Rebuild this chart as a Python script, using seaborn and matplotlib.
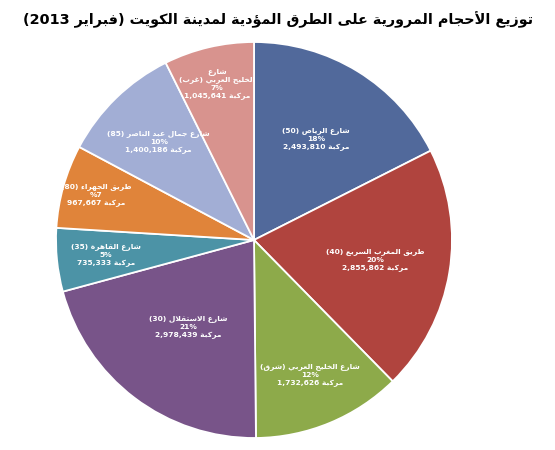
import re
import matplotlib
matplotlib.use("Agg")
import matplotlib.pyplot as plt
import seaborn as sns
import numpy as np

# ---------------------------------------------------------------
# data
roads = ["شارع الرياض (50)",
         "طريق المغرب السريع (40)",
         "شارع الخليج العربي (شرق)",
         "شارع الاستقلال (30)",
         "شارع القاهرة (35)",
         "طريق الجهراء (80)",
         "شارع جمال عبد الناصر (85)",
         "شارع\nالخليج العربي (غرب)"]
vehicles = [2493810, 2855862, 1732626, 2978439, 735333, 967667, 1400186, 1045641]
pct_labels = ["18%", "20%", "12%", "21%", "5%", "%7", "10%", "7%"]
unit = "مركبة"
title = "توزيع الأحجام المرورية على الطرق المؤدية لمدينة الكويت (فبراير 2013)"

colors = sns.color_palette(["#51699B", "#B0443E", "#8DAA4A", "#785489",
                            "#4C93A6", "#E0843A", "#A2AED5", "#D8938E"])
# distance of each label from the centre (fraction of radius)
label_r = [0.60, 0.62, 0.74, 0.55, 0.75, 0.83, 0.69, 0.81]

# ---------------------------------------------------------------
# small arabic shaper (presentation forms + visual reordering)
_letters = "ءآأؤإئابةتثجحخدذرزسشصضطظعغفقكلمنهوىي"
_nforms = [1, 2, 2, 2, 2, 4, 2, 4, 2, 4, 4, 4, 4, 4, 2, 2, 2, 2, 4, 4, 4, 4,
           4, 4, 4, 4, 4, 4, 4, 4, 4, 4, 4, 2, 2, 4]
FORMS = {}
code = 0xFE80
for ch, n in zip(_letters, _nforms):
    FORMS[ch] = [code + k for k in range(n)]
    code += n
LAM_ALEF = {"آ": 0xFEF5, "أ": 0xFEF7, "إ": 0xFEF9, "ا": 0xFEFB}


def shape(s):
    out = []
    i = 0
    while i < len(s):
        c = s[i]
        if c not in FORMS:
            out.append(c)
            i += 1
            continue
        prev = s[i - 1] if i > 0 else ""
        pj = prev in FORMS and len(FORMS[prev]) == 4
        if c == "ل" and i + 1 < len(s) and s[i + 1] in LAM_ALEF:
            out.append(chr(LAM_ALEF[s[i + 1]] + (1 if pj else 0)))
            i += 2
            continue
        nxt = s[i + 1] if i + 1 < len(s) else ""
        f = FORMS[c]
        nj = len(f) == 4 and nxt in FORMS
        if len(f) == 1:
            idx = 0
        elif len(f) == 2:
            idx = 1 if pj else 0
        else:
            idx = 3 if (pj and nj) else 1 if pj else 2 if nj else 0
        out.append(chr(f[idx]))
        i += 1
    return "".join(out)


def ar(s):
    lines = []
    for line in s.split("\n"):
        sh = shape(line)
        toks = re.split(r"([0-9][0-9,.]*)", sh)
        vis = []
        for t in reversed(toks):
            if re.fullmatch(r"[0-9][0-9,.]*", t):
                vis.append(t)
            else:
                t = t[::-1].translate(str.maketrans("()", ")("))
                vis.append(t)
        lines.append("".join(vis))
    return "\n".join(lines)


# ---------------------------------------------------------------
sns.set_style("white")
plt.rcParams["font.family"] = ["DejaVu Sans"]

fig = plt.figure(figsize=(5.55, 4.5), dpi=100)
ax = fig.add_axes([(254 - 198) / 555, (210 - 198) / 450, 396 / 555, 396 / 450])

wedges, _ = ax.pie(vehicles, colors=colors, startangle=90, counterclock=False,
                   radius=1.0, wedgeprops=dict(edgecolor="white", linewidth=1.3))
ax.set_xlim(-1, 1)
ax.set_ylim(-1, 1)

for w, name, v, p, r in zip(wedges, roads, vehicles, pct_labels, label_r):
    mid = np.deg2rad((w.theta1 + w.theta2) / 2)
    txt = ar(name) + "\n" + p + "\n" + ar(unit + " " + f"{v:,}")
    ax.text(r * np.cos(mid), r * np.sin(mid), txt, ha="center", va="center",
            color="white", fontsize=5.4, fontweight="bold", linespacing=1.35)

t = fig.text(278 / 555, 1 - 20 / 450, ar(title), ha="center", va="center",
             fontsize=12, fontweight="bold", color="black")
# fit title to the width seen in the reference (~512 px)
fig.canvas.draw()
w_px = t.get_window_extent().width
t.set_fontsize(12 * 512 / w_px)

fig.savefig("out.png", dpi=100)
